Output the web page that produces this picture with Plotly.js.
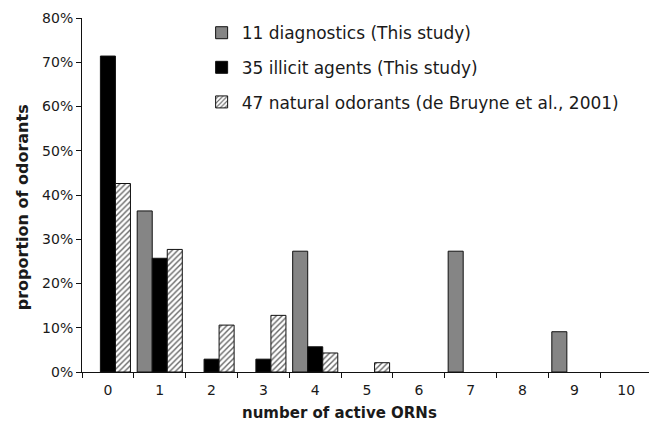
<!DOCTYPE html>
<html>
<head>
<meta charset="utf-8">
<script src="https://cdn.plot.ly/plotly-3.0.1.min.js"></script>
<style>html,body{margin:0;padding:0;background:#fff;}#chart{width:649px;height:425px;}</style>
</head>
<body>
<div id="chart"></div>
<script>
// categories: number of active ORNs
const categories = ["0","1","2","3","4","5","6","7","8","9","10"];
// series values (proportion of odorants); null = no bar drawn
const diagnostics = [null, 0.364, null, null, 0.273, null, null, 0.273, null, 0.091, null];
const illicitAgents = [0.714, 0.257, 0.029, 0.029, 0.057, null, null, null, null, null, null];
const naturalOdorants = [0.426, 0.277, 0.106, 0.128, 0.043, 0.021, null, null, null, null, null];
// legend labels
const seriesNames = [
  "11 diagnostics (This study)",
  "35 illicit agents (This study)",
  "47 natural odorants (de Bruyne et al., 2001)"
];
const yTickValues = [0, 0.1, 0.2, 0.3, 0.4, 0.5, 0.6, 0.7, 0.8];
const xTitle = "number of active ORNs";
const yTitle = "proportion of odorants";

const FONT = "DejaVu Sans, Arial, sans-serif";
const lineStyle = {color: "#111", width: 1};
const titleFont = {family: FONT, size: 15, color: "#1a1a1a", weight: "bold"};

const traces = [
  {type: "bar", x: categories, y: diagnostics, name: seriesNames[0], legendgroup: "a",
   marker: {color: "#858585", line: lineStyle}},
  {type: "bar", x: categories, y: illicitAgents, name: seriesNames[1], legendgroup: "b",
   marker: {color: "#000000", line: lineStyle}},
  {type: "bar", x: categories, y: naturalOdorants, name: seriesNames[2], legendgroup: "c",
   marker: {color: "#ffffff", line: lineStyle,
            pattern: {shape: "/", fgcolor: "#666666", bgcolor: "#ffffff", size: 4, solidity: 0.35}}}
];

const layout = {
  width: 649, height: 425,
  margin: {l: 82, r: 0, t: 18, b: 53},
  paper_bgcolor: "#ffffff", plot_bgcolor: "#ffffff",
  font: {family: FONT, color: "#1a1a1a", size: 14},
  barmode: "group",
  bargap: 0.13,
  bargroupgap: 0,
  showlegend: true,
  legend: {
    x: 0.211, xanchor: "left", y: 1.008, yanchor: "top",
    font: {family: FONT, size: 17, color: "#1a1a1a"},
    bgcolor: "rgba(0,0,0,0)", borderwidth: 0,
    traceorder: "grouped", tracegroupgap: 9.5
  },
  xaxis: {
    type: "category",
    range: [-0.5, 10.44],
    tickson: "boundaries",
    ticks: "outside", ticklen: 5, tickwidth: 1, tickcolor: "#111",
    ticklabelstandoff: 5,
    showline: true, linecolor: "#111", linewidth: 1,
    showgrid: false, zeroline: false,
    tickfont: {family: FONT, size: 14, color: "#1a1a1a"},
    automargin: false
  },
  yaxis: {
    range: [0, 0.8],
    tickvals: yTickValues,
    tickformat: ".0%",
    ticks: "outside", ticklen: 5, tickwidth: 1, tickcolor: "#111",
    showline: true, linecolor: "#111", linewidth: 1,
    showgrid: false, zeroline: false,
    tickfont: {family: FONT, size: 14, color: "#1a1a1a"},
    automargin: false
  },
  annotations: [
    {text: xTitle, xref: "paper", yref: "paper", x: 0.4545, y: -0.085,
     xanchor: "center", yanchor: "top", showarrow: false, font: titleFont},
    {text: yTitle, xref: "paper", yref: "paper", x: -0.106, y: 0.465,
     xanchor: "center", yanchor: "middle", textangle: -90, showarrow: false,
     font: Object.assign({}, titleFont, {size: 16})}
  ]
};

Plotly.newPlot("chart", traces, layout, {staticPlot: true, displayModeBar: false});
</script>
</body>
</html>
